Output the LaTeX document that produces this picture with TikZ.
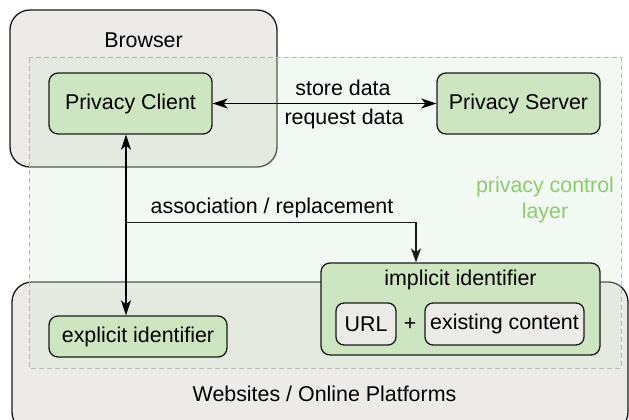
\documentclass[tikz,border=0pt]{standalone}
\usepackage{fontspec}
\setmainfont{Liberation Sans}
\usetikzlibrary{arrows.meta}
\definecolor{nodegreen}{HTML}{CDE6C1}
\definecolor{layergreen}{HTML}{D5E8D4}
\definecolor{boxgray}{HTML}{EDEBE8}
\definecolor{labelgreen}{HTML}{8CCB6E}
\definecolor{dashgray}{HTML}{B8B8B8}
\definecolor{strokedark}{HTML}{1A1A1A}
\begin{document}
\begin{tikzpicture}[x=1pt,y=-1pt,
  font=\fontsize{21.4}{25}\selectfont,
  container/.style={draw=strokedark,line width=1.3pt,fill=boxgray,rounded corners=20pt},
  greenbox/.style={draw=strokedark,line width=1.3pt,fill=nodegreen,rounded corners=9pt,inner sep=0pt},
  graybox/.style={draw=strokedark,line width=1.3pt,fill=boxgray,rounded corners=8pt,inner sep=0pt},
  tip/.style={Stealth[length=15pt,width=10pt,inset=4pt]},
  conn2/.style={line width=1.8pt,draw=black,arrows={Stealth[length=15pt,width=10pt,inset=4pt]-Stealth[length=15pt,width=10pt,inset=4pt]}},
  lbl/.style={inner sep=0pt}]
\useasboundingbox (0,0) rectangle (629,420);
\fill[white] (0,0) rectangle (629,420);
% containers
\begin{scope}
\clip (0,0) rectangle (629,420);
\draw[container] (10,10) rectangle (277,167);
\draw[container] (12,282) rectangle (628,432);
\end{scope}
% privacy control layer
\draw[dashgray,line width=1pt,dash pattern=on 5pt off 3pt,fill=layergreen,fill opacity=0.3] (29,58) rectangle (621,368);
\node[lbl] (browser) at (143.5,40) {Browser};
\node[lbl] (web) at (324.5,394) {Websites / Online Platforms};
\node[lbl,text=labelgreen,align=center,font=\fontsize{21.4}{26}\selectfont] (layer) at (545,200) {privacy control\\layer};
% nodes
\node[greenbox,minimum width=163pt,minimum height=61pt] (pc) at (130.5,103.5) {Privacy Client};
\node[greenbox,minimum width=163pt,minimum height=61pt] (ps) at (518.5,103.5) {Privacy Server};
\node[greenbox,minimum width=178pt,minimum height=41pt] (ei) at (138,336.5) {explicit identifier};
\node[greenbox,minimum width=279pt,minimum height=92pt] (ii) at (460.5,309) {};
\node[lbl] (iit) at (460.5,280) {implicit identifier};
\node[graybox,minimum width=60pt,minimum height=42pt] (url) at (366,324) {URL};
\node[graybox,minimum width=159pt,minimum height=42pt] (ec) at (504.5,324) {existing content};
\node[lbl] (plus) at (410,324) {+};
% connectors
\draw[conn2] (pc) -- (ps);
\node[lbl] (store) at (343,88) {store data};
\node[lbl] (req) at (344,119) {request data};
\coordinate (j) at (126,222.5);
\draw[conn2] (pc.south -| j) -- (ei.north -| j);
\draw[line width=1.4pt,draw=strokedark,arrows={-Stealth[length=14pt,width=10pt,inset=4pt]}] (j) -| ([xshift=-44.5pt]ii.north);
\node[lbl] (assoc) at (272,208) {association / replacement};
\end{tikzpicture}
\end{document}
